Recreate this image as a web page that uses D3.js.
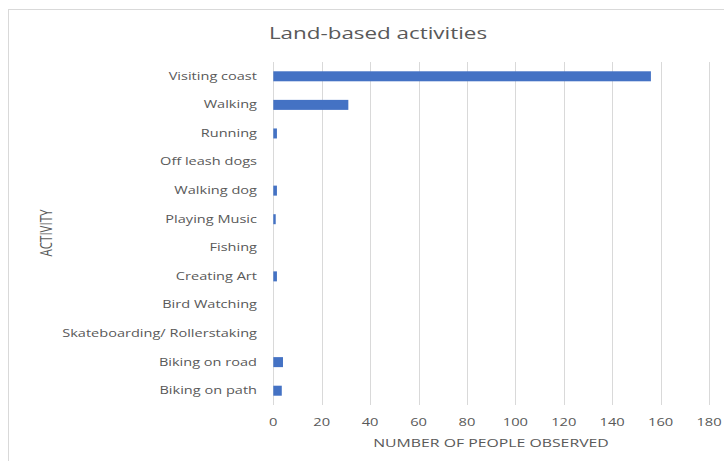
<!DOCTYPE html>
<html>
<head>
<meta charset="utf-8">
<script src="https://cdn.jsdelivr.net/npm/d3@7"></script>
<style>
  html, body { margin: 0; padding: 0; background: #fff; }
  svg { display: block; }
  text { font-family: "Open Sans", "Liberation Sans", sans-serif; fill: #595959; }
</style>
</head>
<body>
<svg id="chart" width="724" height="461"></svg>
<script>
// Activities observed, top to bottom
const activities = [
  "Visiting coast", "Walking", "Running", "Off leash dogs", "Walking dog",
  "Playing Music", "Fishing", "Creating Art", "Bird Watching",
  "Skateboarding/ Rollerstaking", "Biking on road", "Biking on path"
];
// Number of people observed per activity
const counts = [156, 31, 1.5, 0, 1.5, 1, 0, 1.5, 0, 0, 4, 3.5];
const xTicks = [0, 20, 40, 60, 80, 100, 120, 140, 160, 180];

const svg = d3.select("#chart");
// Text in this chart is drawn horizontally widened
const SX = 1.4;

// Chart frame
svg.append("rect")
  .attr("x", 8.5).attr("y", 9.5)
  .attr("width", 800).attr("height", 600)
  .attr("fill", "#fff").attr("stroke", "#d9d9d9");

const x = d3.scaleLinear().domain([0, 180]).range([273.3, 709]);
const y = d3.scaleBand().domain(activities).range([62, 405])
  .paddingInner(0.65).paddingOuter(0.325);

// Vertical gridlines
svg.append("g").selectAll("line").data(xTicks).join("line")
  .attr("x1", d => Math.round(x(d)) + 0.5).attr("x2", d => Math.round(x(d)) + 0.5)
  .attr("y1", 62).attr("y2", 405)
  .attr("stroke", "#d9d9d9").attr("stroke-width", 1);

// X tick labels
svg.append("g").selectAll("g").data(xTicks).join("g")
  .attr("transform", d => `translate(${x(d)},425.5) scale(${SX},1)`)
  .append("text")
  .attr("text-anchor", "middle")
  .attr("font-size", 10.5)
  .text(d => d);

// Category labels
svg.append("g").selectAll("g").data(activities).join("g")
  .attr("transform", d => `translate(257,${y(d) + y.bandwidth() / 2}) scale(${SX},1)`)
  .append("text")
  .attr("text-anchor", "end")
  .attr("dy", "0.33em")
  .attr("font-size", 10.4)
  .text(d => d);

// Bars
svg.append("g").selectAll("rect").data(activities).join("rect")
  .attr("x", x(0))
  .attr("y", d => y(d))
  .attr("height", y.bandwidth())
  .attr("width", (d, i) => x(counts[i]) - x(0))
  .attr("fill", "#4472c4");

// Title
svg.append("g").attr("transform", `translate(378,38.5) scale(${SX},1)`)
  .append("text")
  .attr("text-anchor", "middle")
  .attr("font-size", 16)
  .text("Land-based activities");

// Axis titles
svg.append("g").attr("transform", `translate(491,447) scale(${SX},1)`)
  .append("text")
  .attr("text-anchor", "middle")
  .attr("font-size", 11.3)
  .text("NUMBER OF PEOPLE OBSERVED");

svg.append("g").attr("transform", `translate(51.5,233) scale(${SX},1) rotate(-90)`)
  .append("text")
  .attr("text-anchor", "middle")
  .attr("font-size", 11.5)
  .text("ACTIVITY");
</script>
</body>
</html>
